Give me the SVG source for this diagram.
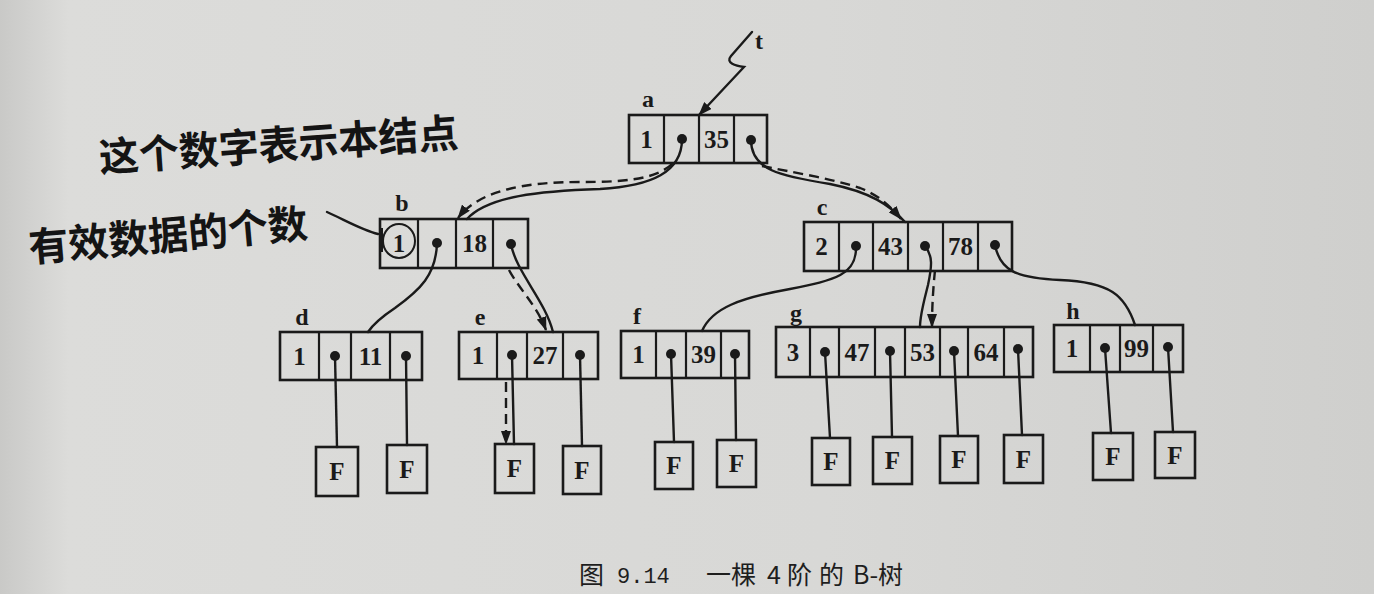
<svg xmlns="http://www.w3.org/2000/svg" width="1374" height="594" viewBox="0 0 1374 594">
<defs>
<linearGradient id="bg" x1="0" y1="0" x2="1" y2="0">
<stop offset="0" stop-color="#c9c9c7"/>
<stop offset="0.05" stop-color="#dcdcda"/>
<stop offset="0.6" stop-color="#d8d8d6"/>
<stop offset="1" stop-color="#cfcfcd"/>
</linearGradient>
<marker id="ah" markerUnits="userSpaceOnUse" markerWidth="14" markerHeight="10" refX="13" refY="5" orient="auto">
<path d="M0,0 L14,5 L0,10 Z" fill="#1a1a1a"/>
</marker>
<style>
.box{fill:none;stroke:#1a1a1a;stroke-width:2.6}
.div{stroke:#1a1a1a;stroke-width:2.2}
.k{font-family:"Liberation Serif",serif;font-weight:bold;font-size:25px;fill:#1a1a1a;text-anchor:middle}
.lb{font-family:"Liberation Serif",serif;font-weight:bold;font-size:24px;fill:#1a1a1a;text-anchor:middle}
.dot{fill:#1a1a1a}
.c{fill:none;stroke:#1a1a1a;stroke-width:2.4;stroke-linecap:round}
.d{fill:none;stroke:#1a1a1a;stroke-width:2.4;stroke-dasharray:10 6}
.hw{font-family:"Noto Sans CJK SC",sans-serif;font-weight:bold;font-size:40px;fill:#141414}
.cap{font-family:"Noto Sans CJK SC",sans-serif;font-size:25px;fill:#1e1e1e}
.capn{font-family:"Liberation Mono",monospace;font-size:22px;fill:#1e1e1e}
</style>
</defs>
<rect width="1374" height="594" fill="url(#bg)"/>

<g id="connectors">
<path class="c" d="M752,32 L731,56 C725,63 736,66 744,67 L699,115" marker-end="url(#ah)"/>
<path class="c" d="M682,139 C682,172 652,186 600,189 C540,191 488,196 467,219"/>
<path class="d" d="M672,164 C655,180 622,182 580,182 C520,182 478,192 458,218" marker-end="url(#ah)"/>
<path class="c" d="M751,140 C751,170 780,176 830,184 C870,192 890,205 905,222"/>
<path class="d" d="M762,166 C790,172 830,178 860,188 C880,196 890,206 901,219" marker-end="url(#ah)"/>
<path class="c" d="M437,243 C436,275 420,290 395,308 C380,318 372,326 368,332"/>
<path class="c" d="M511,244 C516,272 545,300 553,332"/>
<path class="d" d="M509,270 C520,290 537,306 546,330" marker-end="url(#ah)"/>
<path class="c" d="M856,246 C857,275 835,280 790,289 C740,298 712,308 702,331"/>
<path class="c" d="M925,246 C933,256 932,266 928,285 C923,305 920,315 920,327"/>
<path class="d" d="M935,270 C933,290 932,308 932,327" marker-end="url(#ah)"/>
<path class="c" d="M995,245 C1000,270 1015,278 1060,280 C1110,282 1125,295 1135,325"/>
<path class="c" d="M335,356 L337,447"/>
<path class="c" d="M406,356 L407,445"/>
<path class="c" d="M512,355 L514,444"/>
<path class="d" d="M506,382 L506,444" marker-end="url(#ah)"/>
<path class="c" d="M580,355 L582,446"/>
<path class="c" d="M671,354 L674,442"/>
<path class="c" d="M735,354 L736,440"/>
<path class="c" d="M825,352 L830,438"/>
<path class="c" d="M890,351 L892,437"/>
<path class="c" d="M954,351 L958,436"/>
<path class="c" d="M1018,349 L1022,435"/>
<path class="c" d="M1105,348 L1111,433"/>
<path class="c" d="M1168,347 L1173,432"/>
<path class="c" d="M327,212 C345,220 362,230 378,234"/>
<path d="M379,228 L383,228 L383,252 L379,252 Z" fill="#1a1a1a"/>
<ellipse cx="399" cy="241" rx="16" ry="17" fill="none" stroke="#1a1a1a" stroke-width="2"/>
</g>

<text class="lb" x="759" y="49">t</text>

<g id="node-a">
<text class="lb" x="648" y="107">a</text>
<rect class="box" x="629" y="115" width="138" height="48"/>
<line class="div" x1="664" y1="115" x2="664" y2="163"/>
<line class="div" x1="699" y1="115" x2="699" y2="163"/>
<line class="div" x1="734" y1="115" x2="734" y2="163"/>
<text class="k" x="646.5" y="148">1</text>
<text class="k" x="716.5" y="148">35</text>
<circle class="dot" cx="682" cy="139" r="5"/>
<circle class="dot" cx="751" cy="140" r="5"/>
</g>

<g id="node-b">
<text class="lb" x="402" y="211">b</text>
<rect class="box" x="380" y="219" width="148" height="49"/>
<line class="div" x1="418" y1="219" x2="418" y2="268"/>
<line class="div" x1="456" y1="219" x2="456" y2="268"/>
<line class="div" x1="493" y1="219" x2="493" y2="268"/>
<text class="k" x="399" y="252">1</text>
<text class="k" x="474.5" y="252">18</text>
<circle class="dot" cx="437" cy="243" r="5"/>
<circle class="dot" cx="511" cy="244" r="5"/>
</g>

<g id="node-c">
<text class="lb" x="822" y="215">c</text>
<rect class="box" x="804" y="222" width="208" height="49"/>
<line class="div" x1="839" y1="222" x2="839" y2="271"/>
<line class="div" x1="873" y1="222" x2="873" y2="271"/>
<line class="div" x1="908" y1="222" x2="908" y2="271"/>
<line class="div" x1="943" y1="222" x2="943" y2="271"/>
<line class="div" x1="978" y1="222" x2="978" y2="271"/>
<text class="k" x="821.5" y="255">2</text>
<text class="k" x="890.5" y="255">43</text>
<text class="k" x="960.5" y="255">78</text>
<circle class="dot" cx="856" cy="246" r="5"/>
<circle class="dot" cx="925" cy="246" r="5"/>
<circle class="dot" cx="995" cy="245" r="5"/>
</g>

<g id="node-d">
<text class="lb" x="302" y="325">d</text>
<rect class="box" x="280" y="332" width="142" height="48"/>
<line class="div" x1="319" y1="332" x2="319" y2="380"/>
<line class="div" x1="351" y1="332" x2="351" y2="380"/>
<line class="div" x1="390" y1="332" x2="390" y2="380"/>
<text class="k" x="299.5" y="365">1</text>
<text class="k" x="370.5" y="365">11</text>
<circle class="dot" cx="335" cy="356" r="5"/>
<circle class="dot" cx="406" cy="356" r="5"/>
</g>

<g id="node-e">
<text class="lb" x="480" y="325">e</text>
<rect class="box" x="459" y="332" width="139" height="47"/>
<line class="div" x1="497" y1="332" x2="497" y2="379"/>
<line class="div" x1="527" y1="332" x2="527" y2="379"/>
<line class="div" x1="563" y1="332" x2="563" y2="379"/>
<text class="k" x="478" y="364">1</text>
<text class="k" x="545" y="364">27</text>
<circle class="dot" cx="512" cy="355" r="5"/>
<circle class="dot" cx="580" cy="355" r="5"/>
</g>

<g id="node-f">
<text class="lb" x="637" y="324">f</text>
<rect class="box" x="621" y="331" width="128" height="47"/>
<line class="div" x1="656" y1="331" x2="656" y2="378"/>
<line class="div" x1="686" y1="331" x2="686" y2="378"/>
<line class="div" x1="721" y1="331" x2="721" y2="378"/>
<text class="k" x="638.5" y="363">1</text>
<text class="k" x="703.5" y="363">39</text>
<circle class="dot" cx="671" cy="354" r="5"/>
<circle class="dot" cx="735" cy="354" r="5"/>
</g>

<g id="node-g">
<text class="lb" x="796" y="321">g</text>
<rect class="box" x="776" y="327" width="257" height="50"/>
<line class="div" x1="810" y1="327" x2="810" y2="377"/>
<line class="div" x1="839" y1="327" x2="839" y2="377"/>
<line class="div" x1="875" y1="327" x2="875" y2="377"/>
<line class="div" x1="905" y1="327" x2="905" y2="377"/>
<line class="div" x1="940" y1="327" x2="940" y2="377"/>
<line class="div" x1="968" y1="327" x2="968" y2="377"/>
<line class="div" x1="1004" y1="327" x2="1004" y2="377"/>
<text class="k" x="793" y="361">3</text>
<text class="k" x="857" y="361">47</text>
<text class="k" x="922.5" y="361">53</text>
<text class="k" x="986" y="361">64</text>
<circle class="dot" cx="825" cy="352" r="5"/>
<circle class="dot" cx="890" cy="351" r="5"/>
<circle class="dot" cx="954" cy="351" r="5"/>
<circle class="dot" cx="1018" cy="349" r="5"/>
</g>

<g id="node-h">
<text class="lb" x="1073" y="319">h</text>
<rect class="box" x="1054" y="325" width="129" height="47"/>
<line class="div" x1="1090" y1="325" x2="1090" y2="372"/>
<line class="div" x1="1120" y1="325" x2="1120" y2="372"/>
<line class="div" x1="1153" y1="325" x2="1153" y2="372"/>
<text class="k" x="1072" y="357">1</text>
<text class="k" x="1136.5" y="357">99</text>
<circle class="dot" cx="1105" cy="348" r="5"/>
<circle class="dot" cx="1168" cy="347" r="5"/>
</g>

<g id="leaf-d1"><rect class="box" x="316" y="447" width="42" height="49"/><text class="k" x="337" y="480">F</text></g>
<g id="leaf-d2"><rect class="box" x="387" y="445" width="40" height="48"/><text class="k" x="407" y="478">F</text></g>
<g id="leaf-e1"><rect class="box" x="495" y="444" width="39" height="49"/><text class="k" x="514.5" y="477">F</text></g>
<g id="leaf-e2"><rect class="box" x="563" y="446" width="38" height="48"/><text class="k" x="582" y="479">F</text></g>
<g id="leaf-f1"><rect class="box" x="655" y="442" width="38" height="47"/><text class="k" x="674" y="474">F</text></g>
<g id="leaf-f2"><rect class="box" x="717" y="440" width="39" height="47"/><text class="k" x="736.5" y="472">F</text></g>
<g id="leaf-g1"><rect class="box" x="812" y="438" width="38" height="47"/><text class="k" x="831" y="470">F</text></g>
<g id="leaf-g2"><rect class="box" x="873" y="437" width="39" height="47"/><text class="k" x="892.5" y="469">F</text></g>
<g id="leaf-g3"><rect class="box" x="940" y="436" width="38" height="47"/><text class="k" x="959" y="468">F</text></g>
<g id="leaf-g4"><rect class="box" x="1004" y="435" width="39" height="48"/><text class="k" x="1023.5" y="468">F</text></g>
<g id="leaf-h1"><rect class="box" x="1093" y="433" width="40" height="47"/><text class="k" x="1113" y="465">F</text></g>
<g id="leaf-h2"><rect class="box" x="1155" y="432" width="40" height="46"/><text class="k" x="1175" y="464">F</text></g>

<g id="annotation">
<text class="hw" x="100" y="172" transform="rotate(-4 100 172)">这个数字表示本结点</text>
<text class="hw" x="30" y="262" transform="rotate(-5 30 262)">有效数据的个数</text>
</g>

<g id="caption">
<text class="cap" x="579" y="584">图</text>
<text class="capn" x="617" y="583">9.14</text>
<text class="cap" x="706" y="584">一棵</text>
<text class="cap" x="767" y="584">4</text>
<text class="cap" x="787" y="584">阶</text>
<text class="cap" x="819" y="584">的</text>
<text class="cap" x="853" y="584">B-树</text>
</g>
</svg>
